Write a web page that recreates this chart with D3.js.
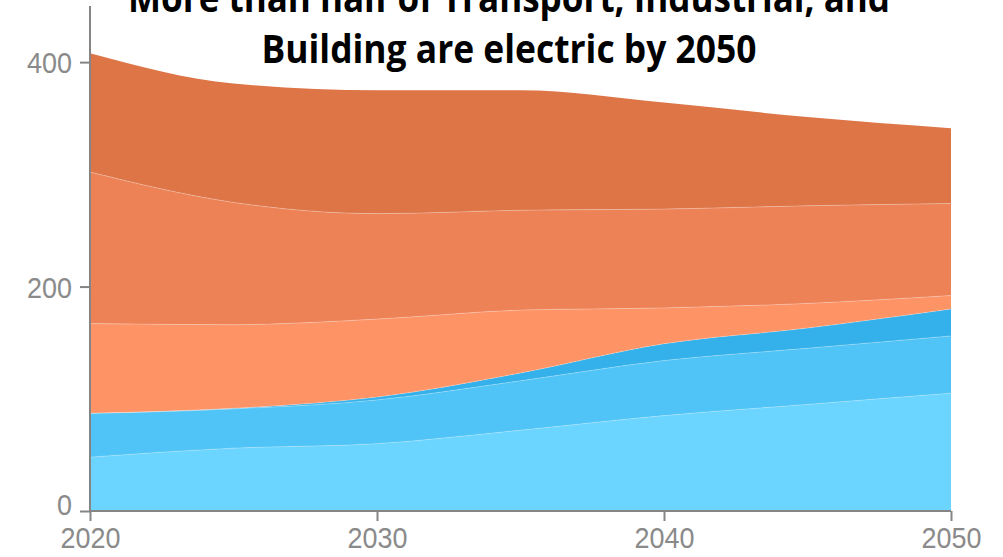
<!DOCTYPE html>
<html>
<head>
<meta charset="utf-8">
<script src="https://cdn.jsdelivr.net/npm/d3@7"></script>
<style>
  html, body { margin: 0; padding: 0; background: #fff; }
  svg { display: block; }
</style>
</head>
<body>
<div id="chart"></div>
<script>
// data (stack order: bottom to top)
const years = [2020, 2025, 2030, 2035, 2040, 2045, 2050];
const seriesNames = [
  "Buildings (electric)",
  "Industrial (electric)",
  "Transport (electric)",
  "Buildings",
  "Industrial",
  "Transport"
];
const buildingsElectric = [48, 56, 60, 72, 85, 95, 105];
const industrialElectric = [39, 35, 39, 44, 49, 50, 51];
const transportElectric = [0, 0.5, 2.5, 7, 15, 18, 24];
const buildings = [80, 74.5, 69.5, 56, 32, 22, 12];
const industrial = [135, 109, 94, 89, 88, 87, 82];
const transport = [106, 106, 110, 107, 95, 79, 67];
const colors = ["#6bd4ff", "#50c4f6", "#34b1ea", "#fe9366", "#ed8257", "#dd7547"];
const yTicks = [0, 200, 400];
const xTicks = [2020, 2030, 2040, 2050];
const titleLines = [
  "More than half of Transport, Industrial, and",
  "Building are electric by 2050"
];

const width = 1003;
const height = 557;

const allSeries = [buildingsElectric, industrialElectric, transportElectric, buildings, industrial, transport];
const table = years.map((yr, i) => {
  const row = { year: yr };
  seriesNames.forEach((n, k) => { row[n] = allSeries[k][i]; });
  return row;
});

const stack = d3.stack().keys(seriesNames);
const layers = stack(table);

// scales
const xScale = d3.scaleLinear().domain([2020, 2050]).range([90, 951]);
const yScale = d3.scaleLinear().domain([0, 450]).range([511, 6]);

const svg = d3.select("#chart")
  .append("svg")
  .attr("width", width)
  .attr("height", height);

const area = d3.area()
  .curve(d3.curveMonotoneX)
  .x((d) => xScale(d.data.year))
  .y0((d) => yScale(d[0]))
  .y1((d) => yScale(d[1]));

const topLine = d3.line()
  .curve(d3.curveMonotoneX)
  .x((d) => xScale(d.data.year))
  .y((d) => yScale(d[1]));

// areas
svg.append("g")
  .selectAll("path")
  .data(layers)
  .enter()
  .append("path")
  .attr("fill", (d, i) => colors[i])
  .attr("d", area);

// faint seams between layers
svg.append("g")
  .selectAll("path")
  .data(layers.slice(0, layers.length - 1))
  .enter()
  .append("path")
  .attr("fill", "none")
  .attr("stroke", "#ffffff")
  .attr("stroke-opacity", 0.25)
  .attr("stroke-width", 1)
  .attr("d", topLine);

// axes
const axisColor = "#858585";
const labelColor = "#8a8a8a";

const yAxis = d3.axisLeft(yScale).tickValues(yTicks).tickSize(10).tickPadding(8);
const gy = svg.append("g")
  .attr("transform", "translate(90,0)")
  .call(yAxis);

const xAxis = d3.axisBottom(xScale).tickValues(xTicks).tickFormat(d3.format("d")).tickSize(10).tickPadding(6);
const gx = svg.append("g")
  .attr("transform", "translate(0,511)")
  .call(xAxis);

[gx, gy].forEach((g) => {
  g.select(".domain").attr("stroke", axisColor).attr("stroke-width", 2);
  g.selectAll(".tick line").attr("stroke", axisColor).attr("stroke-width", 2);
  // narrow, tall digits like the source
  g.selectAll(".tick text")
    .attr("fill", labelColor)
    .attr("textLength", function () { return this.textContent.length * 15; })
    .attr("lengthAdjust", "spacingAndGlyphs")
    .style("font-family", "'Liberation Sans', Arial, sans-serif")
    .style("font-size", "30px");
});
gy.select(".domain").attr("d", "M0,511V6");
gx.select(".domain").attr("d", "M90,0H951");
gy.selectAll(".tick text").attr("dy", "0.36em");
gy.selectAll(".tick").filter((d) => d === 0).select("text").attr("dy", "0.1em");

// title (partly cut off at the top, as in the source)
svg.append("g")
  .selectAll("text")
  .data(titleLines)
  .enter()
  .append("text")
  .attr("x", 509)
  .attr("y", (d, i) => 12 + i * 51)
  .attr("text-anchor", "middle")
  .attr("textLength", (d, i) => (i === 0 ? 762 : 495))
  .attr("lengthAdjust", "spacingAndGlyphs")
  .style("font-family", "'Open Sans', 'Noto Sans', sans-serif")
  .style("font-weight", "bold")
  .style("font-size", "40px")
  .attr("fill", "#000")
  .text((d) => d);
</script>
</body>
</html>
